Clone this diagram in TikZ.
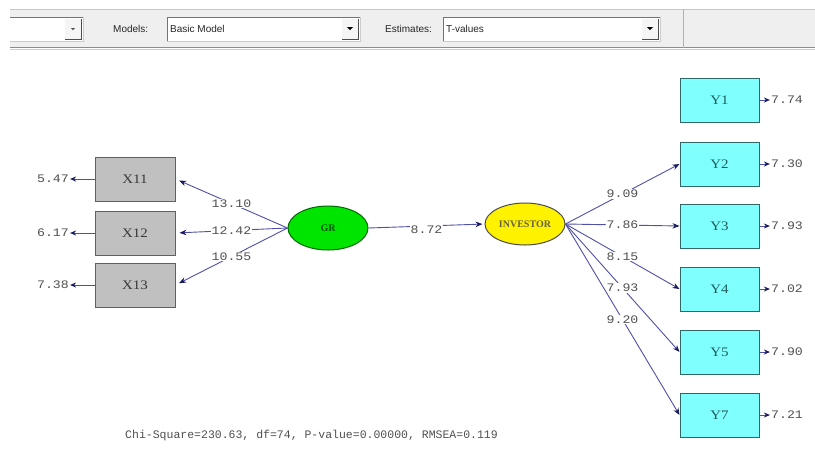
\documentclass[tikz,border=0pt]{standalone}
\usepackage{fontspec}
\setmainfont{Liberation Serif}
\newfontfamily\labfont[FakeStretch=1.15]{Liberation Mono}
\newfontfamily\botfont{Liberation Mono}
\newfontfamily\uifont{Liberation Sans}
\newfontfamily\boxfont[FakeStretch=1.15]{Liberation Serif}
\usetikzlibrary{shapes.geometric,arrows.meta}
\definecolor{xfill}{HTML}{C0C0C0}
\definecolor{xborder}{HTML}{606060}
\definecolor{xtext}{HTML}{383838}
\definecolor{yfill}{HTML}{80FFFF}
\definecolor{yborder}{HTML}{306868}
\definecolor{ytext}{HTML}{1E5A5A}
\definecolor{pathc}{HTML}{5050A8}
\definecolor{headc}{HTML}{1A1A60}
\definecolor{labtext}{HTML}{505050}
\definecolor{tbbg}{HTML}{EFEFEF}
\tikzset{
  xbox/.style={draw=xborder, fill=xfill, line width=1pt, minimum width=80pt, minimum height=44pt, inner sep=0pt, text=xtext, font=\boxfont\fontsize{13}{13}\selectfont},
  ybox/.style={draw=yborder, fill=yfill, line width=1pt, minimum width=79pt, minimum height=44pt, inner sep=0pt, text=ytext, font=\boxfont\fontsize{13}{13}\selectfont},
  lv/.style={ellipse, line width=1pt, minimum width=80pt, inner sep=0pt, font=\bfseries\fontsize{10}{10}\selectfont},
  lab/.style={fill=white, inner sep=1pt, text=labtext, font=\labfont\fontsize{11.5}{12}\selectfont},
  elab/.style={inner sep=1pt, text=labtext, font=\labfont\fontsize{11.5}{12}\selectfont},
  pth/.style={draw=pathc, line width=0.9pt, -{Stealth[length=7pt,width=5.5pt,color=headc]}},
  err/.style={draw=pathc, line width=1pt, -{Stealth[length=6pt,width=5pt,color=headc]}},
  ui/.style={anchor=west, inner sep=0pt, text=black!85, font=\uifont\fontsize{10}{11}\selectfont},
}
\begin{document}
\begin{tikzpicture}[x=1pt,y=-1pt]
\useasboundingbox (0,0) rectangle (815,467);
\fill[white] (0,0) rectangle (815,467);
% toolbar
\fill[tbbg] (10,9) rectangle (815,48);
\draw[black!22] (10,9.5) -- (815,9.5);
\draw[black!45, line width=1pt] (10,47) -- (815,47);
\draw[black!20] (10,49.5) -- (815,49.5);
\draw[black!30] (683,9) -- (683,48);
% combo 1
\fill[white] (10,17) rectangle (83,41);
\draw[black!55] (10,17) -- (83,17);
\draw[black!20] (10,41) -- (83,41) -- (83,17);
\fill[black!4] (65,19) rectangle (81,39);
\draw[black!70] (65,39) -- (81,39) -- (81,19);
\fill[black!70] (71,28) -- (75,28) -- (73,30) -- cycle;
% combo 2
\fill[white] (167,17) rectangle (360,41);
\draw[black!55] (167,41) -- (167,17) -- (360,17);
\draw[black!20] (167,41) -- (360,41) -- (360,17);
\fill[black!4] (342,19) rectangle (358,39);
\draw[black!70] (342,39) -- (358,39) -- (358,19);
\fill[black] (347,27) -- (353,27) -- (350,30) -- cycle;
% combo 3
\fill[white] (443,17) rectangle (660,41);
\draw[black!55] (443,41) -- (443,17) -- (660,17);
\draw[black!20] (443,41) -- (660,41) -- (660,17);
\fill[black!4] (642,19) rectangle (658,39);
\draw[black!70] (642,39) -- (658,39) -- (658,19);
\fill[black] (647,27) -- (653,27) -- (650,30) -- cycle;
\node[ui] (tModels) at (113,29) {Models:};
\node[ui] (tBasic) at (170,29) {Basic Model};
\node[ui] (tEst) at (385,29) {Estimates:};
\node[ui] (tTval) at (446,29) {T-values};
% observed X
\node[xbox] (X11) at (135,179) {X11};
\node[xbox] (X12) at (135,233) {X12};
\node[xbox] (X13) at (135,285) {X13};
% observed Y
\node[ybox] (Y1) at (719.5,100) {Y1};
\node[ybox] (Y2) at (719.5,164) {Y2};
\node[ybox] (Y3) at (719.5,226) {Y3};
\node[ybox] (Y4) at (719.5,289) {Y4};
\node[ybox] (Y5) at (719.5,352) {Y5};
\node[ybox] (Y7) at (719.5,415) {Y7};
% latent
\node[lv, draw=green!40!black, fill=green!90!black, minimum height=44pt, text=green!30!black] (GR) at (328,228) {GR};
\node[lv, draw=black!70, fill=yellow, minimum height=42pt, text=black!70!yellow] (INV) at (525,224) {INVESTOR};
% error terms X
\node[elab] (e11) at (53,179) {5.47};
\node[elab] (e12) at (53,233) {6.17};
\node[elab] (e13) at (53,285) {7.38};
\draw[err] (X11.west) -- (e11.east);
\draw[err] (X12.west) -- (e12.east);
\draw[err] (X13.west) -- (e13.east);
% error terms Y
\node[elab] (d1) at (787,100) {7.74};
\node[elab] (d2) at (787,164) {7.30};
\node[elab] (d3) at (787,226) {7.93};
\node[elab] (d4) at (787,289) {7.02};
\node[elab] (d5) at (787,352) {7.90};
\node[elab] (d7) at (787,415) {7.21};
\draw[err] (Y1.east) -- (d1.west);
\draw[err] (Y2.east) -- (d2.west);
\draw[err] (Y3.east) -- (d3.west);
\draw[err] (Y4.east) -- (d4.west);
\draw[err] (Y5.east) -- (d5.west);
\draw[err] (Y7.east) -- (d7.west);
% GR loadings
\draw[pth, shorten >=4pt] (GR.west) -- node[lab] (l11) {13.10} (X11.east);
\draw[pth, shorten >=4pt] (GR.west) -- node[lab] (l12) {12.42} (X12.east);
\draw[pth, shorten >=4pt] (GR.west) -- node[lab] (l13) {10.55} (X13.east);
% structural path
\draw[pth, shorten >=2pt] (GR.east) -- node[lab, yshift=-4pt] (g1) {8.72} (INV.west);
% INVESTOR loadings
\draw[pth] (INV.east) -- node[lab] (m2) {9.09} (Y2.west);
\draw[pth] (INV.east) -- node[lab] (m3) {7.86} (Y3.west);
\draw[pth] (INV.east) -- node[lab] (m4) {8.15} (Y4.west);
\draw[pth] (INV.east) -- node[lab] (m5) {7.93} (Y5.west);
\draw[pth] (INV.east) -- node[lab] (m7) {9.20} (Y7.west);
% fit statistics
\node[anchor=west, inner sep=0pt, text=labtext, font=\botfont\fontsize{11.5}{12}\selectfont] (fit) at (125,436) {Chi-Square=230.63, df=74, P-value=0.00000, RMSEA=0.119};
\end{tikzpicture}
\end{document}
